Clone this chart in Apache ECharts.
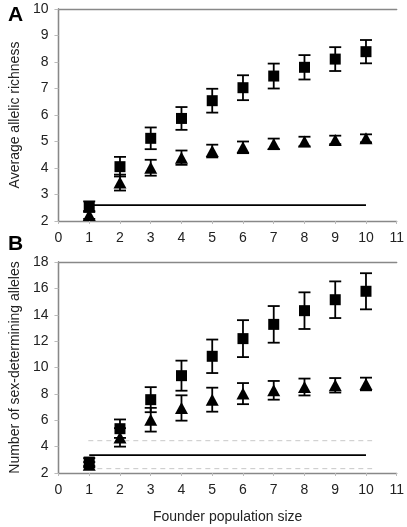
<!DOCTYPE html>
<html><head><meta charset="utf-8">
<script src="https://cdn.jsdelivr.net/npm/echarts@6/dist/echarts.min.js"></script>
<style>html,body{margin:0;padding:0;background:#fff}#c{width:407px;height:527px}</style>
</head><body><div id="c"></div>
<script>
var xs = [1,2,3,4,5,6,7,8,9,10];
// Panel A
var aSquare = [2.54,4.05,5.12,5.87,6.54,7.03,7.47,7.80,8.11,8.39];
var aSquareErr = [0.2,0.37,0.41,0.43,0.45,0.47,0.47,0.46,0.45,0.44];
var aTri = [2.23,3.45,4.01,4.39,4.64,4.78,4.91,5.00,5.06,5.12];
var aTriErr = [0.15,0.3,0.3,0.27,0.24,0.22,0.2,0.18,0.16,0.15];
var aLine = 2.6;
// Panel B
var bSquare = [2.83,5.36,7.56,9.38,10.85,12.19,13.27,14.31,15.14,15.78];
var bSquareErr = [0.3,0.7,0.95,1.14,1.27,1.4,1.39,1.39,1.39,1.37];
var bTri = [2.63,4.7,6.04,6.93,7.56,8.02,8.27,8.52,8.65,8.75];
var bTriErr = [0.2,0.7,0.9,0.96,0.91,0.8,0.71,0.64,0.55,0.48];
var bLine = 3.35, bLineLo = 2.33, bLineHi = 4.45;

var font = 'Liberation Sans, Arial, sans-serif';
function pts(v){ return xs.map(function(x,i){return [x, v[i]];}); }
function errData(v,e){ return xs.map(function(x,i){return [x, v[i]-e[i], v[i]+e[i]];}); }
function errSeries(v,e,gi){
  return {type:'custom', xAxisIndex:gi, yAxisIndex:gi, z:1, silent:true,
    data: errData(v,e),
    renderItem:function(params, api){
      var lo = api.coord([api.value(0), api.value(1)]);
      var hi = api.coord([api.value(0), api.value(2)]);
      var w = 6;
      var st = {stroke:'#000', lineWidth:1.8};
      return {type:'group', children:[
        {type:'line', shape:{x1:lo[0],y1:lo[1],x2:hi[0],y2:hi[1]}, style:st},
        {type:'line', shape:{x1:lo[0]-w,y1:lo[1],x2:lo[0]+w,y2:lo[1]}, style:st},
        {type:'line', shape:{x1:hi[0]-w,y1:hi[1],x2:hi[0]+w,y2:hi[1]}, style:st}
      ]};
    }};
}
function hline(y, gi, dashed){
  return {type:'line', xAxisIndex:gi, yAxisIndex:gi, symbol:'none', silent:true, z:0,
    data: dashed ? [[0.97,y],[10.2,y]] : [[1,y],[10,y]],
    lineStyle: dashed ? {color:'#c8c8c8', width:1, type:[5,4]} : {color:'#000', width:1.8}};
}
var axisLbl = {color:'#222', fontFamily:font, fontSize:14};
function xAxis(gi){
  return {type:'value', gridIndex:gi, min:0, max:11, interval:1,
    axisLine:{show:true, lineStyle:{color:'#888', width:1.3}},
    axisTick:{show:true, length:3, lineStyle:{color:'#bbb'}},
    splitLine:{show:false}, axisLabel:Object.assign({margin:10}, axisLbl),
    name: gi===1 ? 'Founder population size' : '', nameLocation:'middle', nameGap:37,
    nameTextStyle:{color:'#222', fontFamily:font, fontSize:14}};
}
function xAxisTop(gi){
  return {type:'value', gridIndex:gi, position:'top', min:0, max:11,
    axisLine:{show:true, lineStyle:{color:'#888', width:1.3}}, axisTick:{show:false}, axisLabel:{show:false}, splitLine:{show:false}};
}
function yAxis(gi, min, max, iv, name){
  return {type:'value', gridIndex:gi, min:min, max:max, interval:iv,
    axisLine:{show:true, lineStyle:{color:'#888', width:1.3}},
    axisTick:{show:true, length:4, lineStyle:{color:'#bbb'}},
    splitLine:{show:false}, axisLabel:Object.assign({margin:10}, axisLbl),
    name:name, nameLocation:'middle', nameGap:32,
    nameTextStyle:{color:'#222', fontFamily:font, fontSize:14}};
}
function yAxisRight(gi, min, max){
  return {type:'value', gridIndex:gi, position:'right', min:min, max:max,
    axisLine:{show:true, lineStyle:{color:'#888', width:1.3}}, axisTick:{show:false}, axisLabel:{show:false}, splitLine:{show:false}};
}
var chart = echarts.init(document.getElementById('c'));
chart.setOption({
  animation:false,
  textStyle:{fontFamily:font},
  title:[
    {text:'A', left:3, top:0, textStyle:{fontFamily:font, fontSize:21, fontWeight:'bold', color:'#000'}},
    {text:'B', left:3, top:229, textStyle:{fontFamily:font, fontSize:21, fontWeight:'bold', color:'#000'}}
  ],
  grid:[
    {left:58, right:7, top:9, height:212},
    {left:58, right:7, top:262, height:211}
  ],
  xAxis:[xAxis(0), xAxis(1), xAxisTop(0), xAxisTop(1)],
  yAxis:[yAxis(0,2,10,1,'Average allelic richness'), yAxis(1,2,18,2,'Number of sex-determining alleles'), yAxisRight(0,2,10), yAxisRight(1,2,18)],
  series:[
    hline(aLine,0,false),
    hline(bLineHi,1,true), hline(bLineLo,1,true), hline(bLine,1,false),
    errSeries(aSquare,aSquareErr,0), errSeries(aTri,aTriErr,0),
    errSeries(bSquare,bSquareErr,1), errSeries(bTri,bTriErr,1),
    {type:'scatter', xAxisIndex:0, yAxisIndex:0, data:pts(aSquare), symbol:'rect', symbolSize:11, itemStyle:{color:'#000', opacity:1}, z:3},
    {type:'scatter', xAxisIndex:0, yAxisIndex:0, data:pts(aTri), symbol:'triangle', symbolSize:[13,12], itemStyle:{color:'#000', opacity:1}, z:3},
    {type:'scatter', xAxisIndex:1, yAxisIndex:1, data:pts(bSquare), symbol:'rect', symbolSize:11, itemStyle:{color:'#000', opacity:1}, z:3},
    {type:'scatter', xAxisIndex:1, yAxisIndex:1, data:pts(bTri), symbol:'triangle', symbolSize:[13,12], itemStyle:{color:'#000', opacity:1}, z:3}
  ]
});
</script></body></html>
